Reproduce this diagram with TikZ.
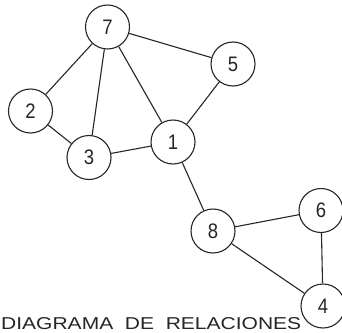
\documentclass[tikz,border=0pt]{standalone}
\usepackage{fontspec}
\setmainfont{Liberation Sans}
\begin{document}
\begin{tikzpicture}[x=1pt,y=-1pt,
  vnode/.style={circle,draw=black!85,line width=1.1pt,minimum size=44pt,inner sep=0pt,font=\fontsize{21}{21}\selectfont,text=black!85},
  edge/.style={draw=black!85,line width=1.1pt}]
\useasboundingbox (0,0) rectangle (342,332);
\clip (0,0) rectangle (342,332);
\fill[white] (0,0) rectangle (342,332);
\node[vnode] (n7) at (107.5,27) {\scalebox{0.88}[1]{7}};
\node[vnode] (n5) at (233,64) {\scalebox{0.88}[1]{5}};
\node[vnode] (n2) at (30.5,111) {\scalebox{0.88}[1]{2}};
\node[vnode] (n3) at (89,157.5) {\scalebox{0.88}[1]{3}};
\node[vnode] (n1) at (173,142) {\scalebox{0.88}[1]{1}};
\node[vnode] (n8) at (213,231) {\scalebox{0.88}[1]{8}};
\node[vnode] (n6) at (321,210.5) {\scalebox{0.88}[1]{6}};
\node[vnode] (n4) at (323,306) {\scalebox{0.88}[1]{4}};
\draw[edge] (n7) -- (n5);
\draw[edge] (n7) -- (n2);
\draw[edge] (n7) -- (n3);
\draw[edge] (n7) -- (n1);
\draw[edge] (n5) -- (n1);
\draw[edge] (n2) -- (n3);
\draw[edge] (n3) -- (n1);
\draw[edge] (n1) -- (n8);
\draw[edge] (n8) -- (n6);
\draw[edge] (n8) -- (n4);
\draw[edge] (n6) -- (n4);
\node[anchor=base west,inner sep=0pt,text=black!85] (title) at (1,329.8) {\resizebox{300pt}{12pt}{DIAGRAMA\ \ DE\ \ RELACIONES}};
\end{tikzpicture}
\end{document}
